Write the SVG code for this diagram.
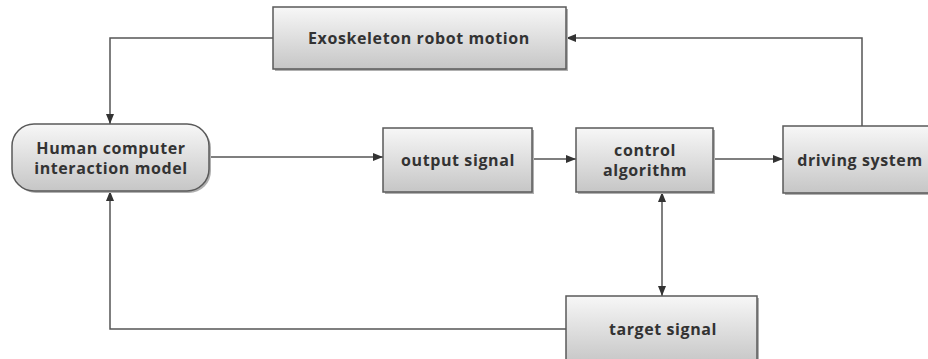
<svg xmlns="http://www.w3.org/2000/svg" width="928" height="359" viewBox="0 0 928 359">
<style>
.box{fill:url(#g);stroke:#5a5a5a;stroke-width:1.5}
.sh{fill:#b0b0b0}
.t{font-family:"Open Sans","DejaVu Sans",sans-serif;font-weight:700;font-size:16px;letter-spacing:0.6px;fill:#333;text-anchor:middle;dominant-baseline:central}
.c{fill:none;stroke:#555;stroke-width:1.5}
</style>
<defs>
<linearGradient id="g" x1="0" y1="0" x2="0" y2="1">
<stop offset="0" stop-color="#f7f7f7"/>
<stop offset="1" stop-color="#c6c6c6"/>
</linearGradient>
<marker id="a" viewBox="0 0 10 8" refX="10" refY="4" markerWidth="10" markerHeight="8" markerUnits="userSpaceOnUse" orient="auto-start-reverse">
<path d="M0,0 L10,4 L0,8 Z" fill="#333"/>
</marker>
</defs>
<rect width="928" height="359" fill="#fff"/>
<g id="connectors">
<path class="c" d="M273,38 H110 V124" marker-end="url(#a)"/>
<path class="c" d="M862,126 V38 H566" marker-end="url(#a)"/>
<path class="c" d="M209,157 H383" marker-end="url(#a)"/>
<path class="c" d="M532,159 H576" marker-end="url(#a)"/>
<path class="c" d="M713,159 H783" marker-end="url(#a)"/>
<path class="c" d="M662,192 V296" marker-start="url(#a)" marker-end="url(#a)"/>
<path class="c" d="M566,329 H110 V191" marker-end="url(#a)"/>
</g>
<g id="exo">
<rect class="sh" x="275" y="9" width="293" height="62"/>
<rect class="box" x="273" y="7" width="293" height="62"/>
<text class="t" x="419" y="38">Exoskeleton robot motion</text>
</g>
<g id="human">
<rect class="sh" x="14" y="126" width="197" height="67" rx="22"/>
<rect class="box" x="12" y="124" width="197" height="67" rx="22"/>
<text class="t" x="111" y="148">Human computer</text>
<text class="t" x="111" y="168">interaction model</text>
</g>
<g id="output">
<rect class="sh" x="385" y="130" width="149" height="64"/>
<rect class="box" x="383" y="128" width="149" height="64"/>
<text class="t" x="458" y="160">output signal</text>
</g>
<g id="control">
<rect class="sh" x="578" y="130" width="137" height="64"/>
<rect class="box" x="576" y="128" width="137" height="64"/>
<text class="t" x="645" y="150">control</text>
<text class="t" x="645" y="170">algorithm</text>
</g>
<g id="driving">
<rect class="sh" x="785" y="128" width="155" height="67"/>
<rect class="box" x="783" y="126" width="155" height="67"/>
<text class="t" x="860" y="160">driving system</text>
</g>
<g id="target">
<rect class="sh" x="568" y="298" width="191" height="68"/>
<rect class="box" x="566" y="296" width="191" height="68"/>
<text class="t" x="663" y="329">target signal</text>
</g>
</svg>
